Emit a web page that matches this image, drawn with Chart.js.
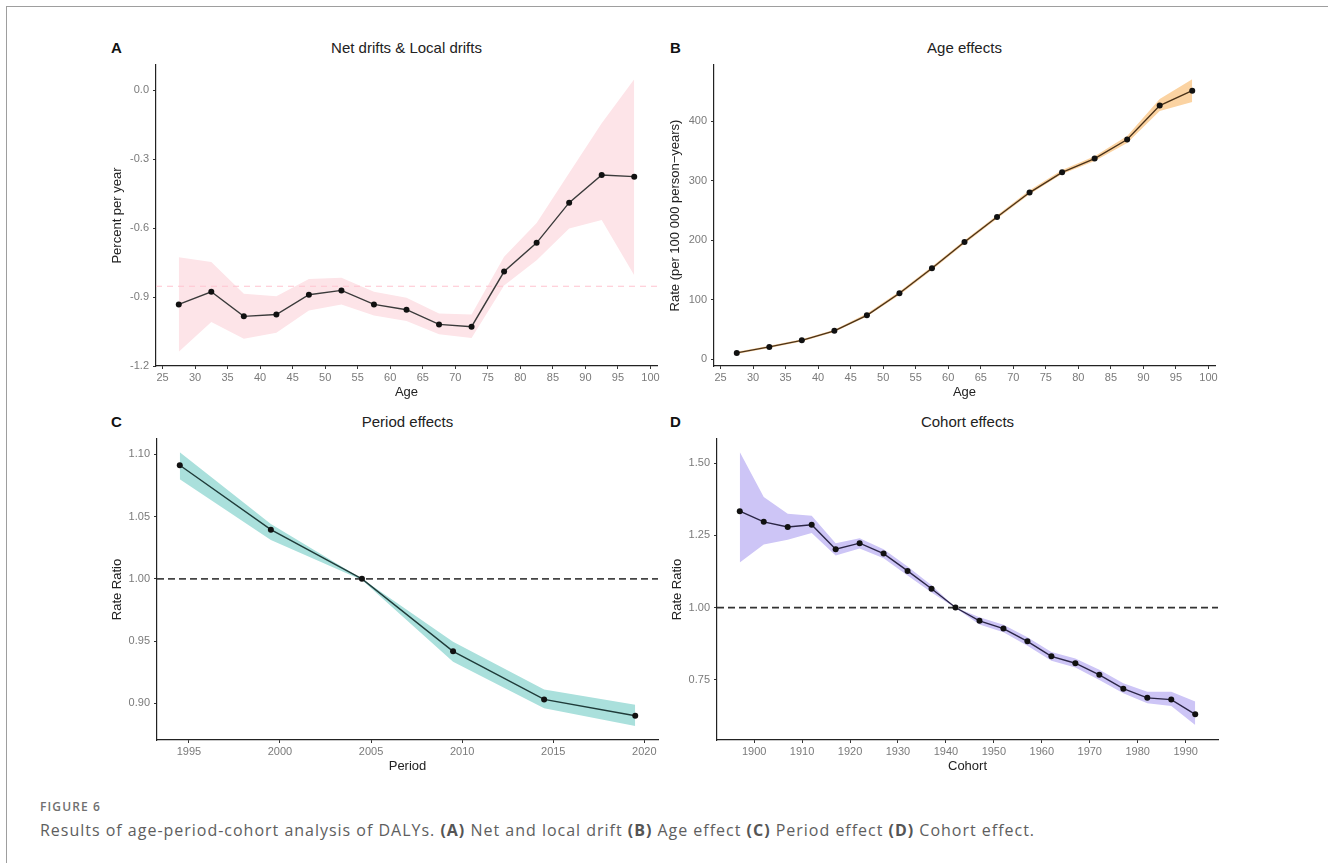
<!DOCTYPE html>
<html>
<head>
<meta charset="utf-8">
<script src="https://cdn.jsdelivr.net/npm/chart.js@4.4.1/dist/chart.umd.min.js"></script>
<style>
  body { margin: 0; background: #fff; width: 1328px; height: 863px; overflow: hidden; position: relative; font-family: "Liberation Sans", Arial, sans-serif; }
  .frame { position: absolute; left: 6px; top: 6px; width: 1330px; height: 870px; border-left: 1px solid #9e9e9e; border-top: 1px solid #9e9e9e; }
  canvas { position: absolute; }
  .letter { position: absolute; font-weight: bold; font-size: 15px; color: #111; line-height: 18px; }
  .title { position: absolute; font-size: 15px; color: #222; line-height: 18px; text-align: center; width: 501px; }
  .fig { position: absolute; left: 40px; top: 799px; font-family: "Open Sans", sans-serif; font-size: 12px; line-height: 16px; font-weight: 600; color: #707070; white-space: nowrap; }
  .cap { position: absolute; left: 40px; top: 819px; font-family: "Open Sans", sans-serif; font-size: 16px; line-height: 22px; color: #5e5e5e; white-space: nowrap; }
  .cap b { font-weight: 700; color: #555; }
</style>
</head>
<body>
<div class="frame"></div>

<div class="letter" style="left:111px;top:39px">A</div>
<div class="title" style="left:156px;top:39px">Net drifts &amp; Local drifts</div>
<div class="letter" style="left:670px;top:39px">B</div>
<div class="title" style="left:714px;top:39px">Age effects</div>
<div class="letter" style="left:111px;top:413px">C</div>
<div class="title" style="left:157px;top:413px">Period effects</div>
<div class="letter" style="left:670px;top:413px">D</div>
<div class="title" style="left:717px;top:413px">Cohort effects</div>

<canvas id="chartA" width="568" height="370" style="left:96px;top:30px"></canvas>
<canvas id="chartB" width="568" height="370" style="left:654px;top:30px"></canvas>
<canvas id="chartC" width="568" height="370" style="left:97px;top:404px"></canvas>
<canvas id="chartD" width="568" height="370" style="left:657px;top:404px"></canvas>

<div class="fig" id="fig">FIGURE 6</div>
<div class="cap" id="cap">Results of age-period-cohort analysis of DALYs. <b>(A)</b> Net and local drift <b>(B)</b> Age effect <b>(C)</b> Period effect <b>(D)</b> Cohort effect.</div>

<script>
// A: net drift & local drifts
const ages = [27.5, 32.5, 37.5, 42.5, 47.5, 52.5, 57.5, 62.5, 67.5, 72.5, 77.5, 82.5, 87.5, 92.5, 97.5];
const localDrift = [-0.932, -0.877, -0.984, -0.976, -0.890, -0.871, -0.932, -0.955, -1.019, -1.029, -0.789, -0.664, -0.489, -0.369, -0.376];
const localDriftUpper = [-0.727, -0.747, -0.886, -0.896, -0.821, -0.816, -0.877, -0.903, -0.971, -0.976, -0.725, -0.578, -0.360, -0.143, 0.048];
const localDriftLower = [-1.138, -1.009, -1.081, -1.055, -0.958, -0.932, -0.980, -1.004, -1.062, -1.078, -0.850, -0.740, -0.602, -0.565, -0.805];
const netDrift = -0.853;

// B: age effects
const ageRate = [11, 21, 32, 48, 74, 111, 153, 197, 239, 280, 314, 337, 369, 426, 451];
const ageRateUpper = [13, 23, 34, 50, 77, 114, 156, 200, 242, 284, 318, 341, 375, 437, 470];
const ageRateLower = [9, 19, 30, 46, 72, 108, 150, 194, 236, 277, 311, 333, 363, 417, 432];

// C: period effects
const periods = [1994.5, 1999.5, 2004.5, 2009.5, 2014.5, 2019.5];
const periodRR = [1.0912, 1.0395, 1.000, 0.9418, 0.9032, 0.8901];
const periodUpper = [1.1016, 1.0440, 1.000, 0.9495, 0.9112, 0.8989];
const periodLower = [1.0799, 1.0312, 0.999, 0.9335, 0.8960, 0.8818];

// D: cohort effects
const cohorts = [1897, 1902, 1907, 1912, 1917, 1922, 1927, 1932, 1937, 1942, 1947, 1952, 1957, 1962, 1967, 1972, 1977, 1982, 1987, 1992];
const cohortRR = [1.334, 1.297, 1.279, 1.287, 1.202, 1.223, 1.187, 1.127, 1.065, 1.000, 0.954, 0.927, 0.883, 0.831, 0.807, 0.767, 0.719, 0.687, 0.681, 0.630];
const cohortUpper = [1.539, 1.383, 1.325, 1.318, 1.223, 1.240, 1.202, 1.142, 1.077, 1.000, 0.966, 0.940, 0.897, 0.846, 0.823, 0.784, 0.738, 0.708, 0.708, 0.674];
const cohortLower = [1.156, 1.218, 1.235, 1.258, 1.180, 1.205, 1.171, 1.111, 1.052, 0.998, 0.941, 0.914, 0.868, 0.816, 0.792, 0.749, 0.703, 0.668, 0.659, 0.593];

// tick labels
const ageTicks = [25, 30, 35, 40, 45, 50, 55, 60, 65, 70, 75, 80, 85, 90, 95, 100];
const driftTicks = [-1.2, -0.9, -0.6, -0.3, 0.0];
const rateTicks = [0, 100, 200, 300, 400];
const periodTicks = [1995, 2000, 2005, 2010, 2015, 2020];
const periodRRTicks = [0.90, 0.95, 1.00, 1.05, 1.10];
const cohortTicks = [1900, 1910, 1920, 1930, 1940, 1950, 1960, 1970, 1980, 1990];
const cohortRRTicks = [0.75, 1.00, 1.25, 1.50];

// stretch caption lines to the width they take in the figure
function fitWidth(el, w) {
  const n = el.textContent.length;
  const cur = el.getBoundingClientRect().width;
  el.style.letterSpacing = ((w - cur) / n) + 'px';
}
fitWidth(document.getElementById('fig'), 61);
fitWidth(document.getElementById('cap'), 995);

function pts(xs, ys) {
  return xs.map((x, i) => ({ x: x, y: ys[i] }));
}

function makePanel(id, p) {
  const datasets = [
    {
      data: pts(p.x, p.y), order: 0,
      borderColor: p.lineColor, borderWidth: 1.4,
      pointRadius: 3, pointBackgroundColor: '#111', pointBorderWidth: 0,
      fill: false, tension: 0
    },
    {
      data: p.ref === null ? [] : [{ x: p.xMin, y: p.ref }, { x: p.xMax, y: p.ref }], order: 1,
      borderColor: p.refColor, borderWidth: p.refWidth, borderDash: p.refDash,
      pointRadius: 0, fill: false
    },
    {
      data: pts(p.x, p.upper), order: 2,
      borderWidth: 0, borderColor: 'rgba(0,0,0,0)', pointRadius: 0,
      backgroundColor: p.bandColor, fill: '+1'
    },
    {
      data: pts(p.x, p.lower), order: 3,
      borderWidth: 0, borderColor: 'rgba(0,0,0,0)', pointRadius: 0, fill: false
    }
  ];

  new Chart(document.getElementById(id), {
    type: 'line',
    data: { datasets: datasets },
    options: {
      responsive: false,
      animation: false,
      layout: { padding: { top: 35, right: 7, left: 0, bottom: 0 } },
      plugins: { legend: { display: false }, tooltip: { enabled: false } },
      scales: {
        x: {
          type: 'linear', min: p.xMin, max: p.xMax,
          afterFit: s => { s.height = 34; },
          afterBuildTicks: s => { s.ticks = p.xTicks.map(v => ({ value: v })); },
          grid: { display: true, drawOnChartArea: false, drawTicks: true, tickLength: 3, tickColor: '#333' },
          border: { display: true, color: '#222', width: 1.2 },
          ticks: { autoSkip: false, maxRotation: 0, padding: 2, color: '#7a7a7a', font: { family: 'Liberation Sans', size: 11 }, callback: v => String(v) },
          title: { display: true, text: p.xTitle, color: '#222', padding: { top: 0, bottom: 0 }, font: { family: 'Liberation Sans', size: 13 } }
        },
        y: {
          type: 'linear', min: p.yMin, max: p.yMax,
          afterFit: s => { s.width = 60; },
          afterBuildTicks: s => { s.ticks = p.yTicks.map(v => ({ value: v })); },
          grid: { display: true, drawOnChartArea: false, drawTicks: true, tickLength: 3, tickColor: '#333' },
          border: { display: true, color: '#222', width: 1.2 },
          ticks: { padding: 4, color: '#7a7a7a', font: { family: 'Liberation Sans', size: 11 }, callback: p.yFmt },
          title: { display: true, text: p.yTitle, color: '#222', padding: { top: p.yTitlePad, bottom: 0 }, font: { family: 'Liberation Sans', size: 13 } }
        }
      }
    }
  });
}

makePanel('chartA', {
  x: ages, y: localDrift, upper: localDriftUpper, lower: localDriftLower,
  xMin: 24, xMax: 101, yMin: -1.2, yMax: 0.11,
  xTicks: ageTicks, yTicks: driftTicks, yFmt: v => v.toFixed(1),
  xTitle: 'Age', yTitle: 'Percent per year', yTitlePad: 14,
  lineColor: '#3a3a3a', bandColor: '#fde4e8',
  ref: netDrift, refColor: '#ffc4cf', refWidth: 1.2, refDash: [6, 5]
});

makePanel('chartB', {
  x: ages, y: ageRate, upper: ageRateUpper, lower: ageRateLower,
  xMin: 24, xMax: 101, yMin: -11, yMax: 494,
  xTicks: ageTicks, yTicks: rateTicks, yFmt: v => String(v),
  xTitle: 'Age', yTitle: 'Rate (per 100 000 person\u2212years)', yTitlePad: 14,
  lineColor: '#4a3218', bandColor: '#fbd3a2',
  ref: null, refColor: '#000', refWidth: 0, refDash: []
});

makePanel('chartC', {
  x: periods, y: periodRR, upper: periodUpper, lower: periodLower,
  xMin: 1993.25, xMax: 2020.75, yMin: 0.8706, yMax: 1.1123,
  xTicks: periodTicks, yTicks: periodRRTicks, yFmt: v => v.toFixed(2),
  xTitle: 'Period', yTitle: 'Rate Ratio', yTitlePad: 13,
  lineColor: '#1f3b39', bandColor: '#aae0dc',
  ref: 1, refColor: '#444', refWidth: 1.8, refDash: [7, 4]
});

makePanel('chartD', {
  x: cohorts, y: cohortRR, upper: cohortUpper, lower: cohortLower,
  xMin: 1892.25, xMax: 1996.75, yMin: 0.541, yMax: 1.584,
  xTicks: cohortTicks, yTicks: cohortRRTicks, yFmt: v => v.toFixed(2),
  xTitle: 'Cohort', yTitle: 'Rate Ratio', yTitlePad: 13,
  lineColor: '#2a2545', bandColor: '#cdc5f6',
  ref: 1, refColor: '#333', refWidth: 1.8, refDash: [7, 4]
});
</script>
</body>
</html>
